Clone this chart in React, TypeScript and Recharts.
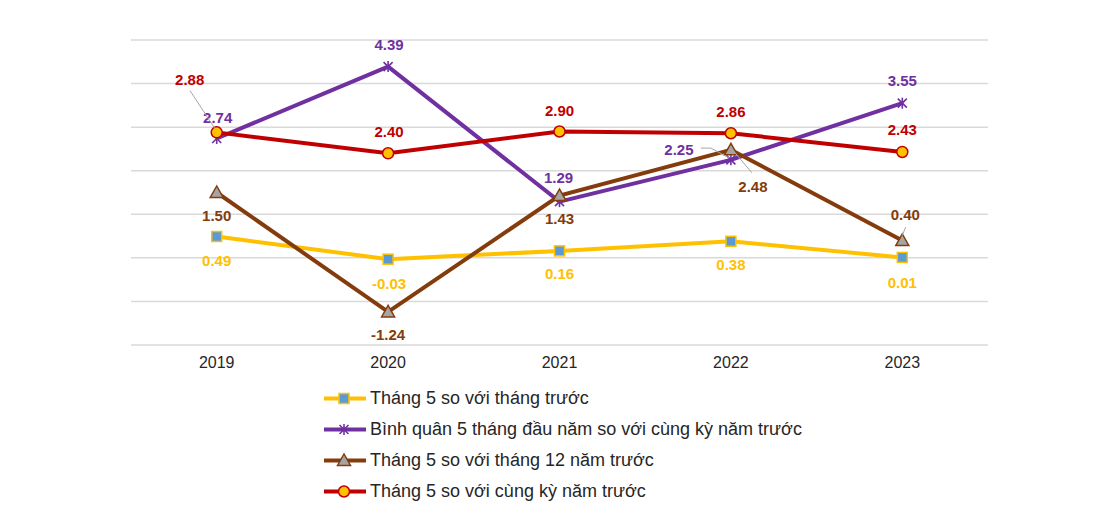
import React from 'react';
import { LineChart, Line, XAxis, YAxis, CartesianGrid, Legend } from 'recharts';

const years = ['2019', '2020', '2021', '2022', '2023'];
const monthOnMonth = [0.49, -0.03, 0.16, 0.38, 0.01];
const fiveMonthAvg = [2.74, 4.39, 1.29, 2.25, 3.55];
const vsDecember = [1.5, -1.24, 1.43, 2.48, 0.4];
const yearOnYear = [2.88, 2.4, 2.9, 2.86, 2.43];
const seriesNames = [
  'Tháng 5 so với tháng trước',
  'Bình quân 5 tháng đầu năm so với cùng kỳ năm trước',
  'Tháng 5 so với tháng 12 năm trước',
  'Tháng 5 so với cùng kỳ năm trước',
];
const yTicks = [-2, -1, 0, 1, 2, 3, 4, 5];

const data = years.map((year, i) => ({
  year,
  mom: monthOnMonth[i],
  avg: fiveMonthAvg[i],
  dec: vsDecember[i],
  yoy: yearOnYear[i],
}));

const FONT = 'Arial, "Liberation Sans", sans-serif';

type Off = { dx: number; dy: number; leader?: number[][] };

const offMom: Off[] = [
  { dx: 0, dy: 24 },
  { dx: 1, dy: 24 },
  { dx: 0, dy: 23 },
  { dx: 0, dy: 23 },
  { dx: 0, dy: 25 },
];
const offAvg: Off[] = [
  { dx: 1, dy: -21 },
  { dx: 1, dy: -22 },
  { dx: -1, dy: -24 },
  { dx: -52, dy: -10, leader: [[-30, -11.7], [-20, -11.7], [-2, -2]] },
  { dx: 0, dy: -23 },
];
const offDec: Off[] = [
  { dx: 0, dy: 23 },
  { dx: 0, dy: 23 },
  { dx: 0, dy: 23 },
  { dx: 22, dy: 37, leader: [[0, -2], [21, 23]] },
  { dx: 3, dy: -26, leader: [[3.4, -13.4], [0, -5]] },
];
const offYoy: Off[] = [
  { dx: -27, dy: -53, leader: [[-26.7, -41.7], [-1.7, -3.7]] },
  { dx: 1, dy: -22 },
  { dx: 0, dy: -21 },
  { dx: 0, dy: -22 },
  { dx: 0, dy: -22 },
];

const C_YEL = '#FFC000';
const C_BLUE = '#5B9BD5';
const C_PUR = '#7030A0';
const C_BRN = '#843C0C';
const C_RED = '#C00000';
const C_GRY = '#A5A5A5';

const fmt = (v: number) => v.toFixed(2);

function makeLabel(offs: Off[], color: string, prefix: string) {
  return (props: any) => {
    const { x, y, value, index } = props;
    if (x == null || y == null) return null;
    const o = offs[index] || { dx: 0, dy: -20 };
    const cx = x + o.dx;
    const cy = y + o.dy;
    const pts = o.leader ? o.leader.map((p) => `${x + p[0]},${y + p[1]}`).join(' ') : null;
    return (
      <g key={`${prefix}-lbl-${index}`}>
        {pts && <polyline points={pts} fill="none" stroke="#A6A6A6" strokeWidth={1} />}
        <text
          x={cx}
          y={cy + 5.4}
          textAnchor="middle"
          fill={color}
          fontFamily={FONT}
          fontSize={15}
          fontWeight="bold"
        >
          {fmt(Number(value))}
        </text>
      </g>
    );
  };
}

function SquareMark({ cx, cy }: { cx: number; cy: number }) {
  return <rect x={cx - 5} y={cy - 5} width={10} height={10} fill={C_BLUE} stroke={C_YEL} strokeWidth={1.5} />;
}
function StarMark({ cx, cy }: { cx: number; cy: number }) {
  const s = 4.5;
  return (
    <g stroke={C_PUR} strokeWidth={1.6}>
      <line x1={cx - s} y1={cy - s} x2={cx + s} y2={cy + s} />
      <line x1={cx - s} y1={cy + s} x2={cx + s} y2={cy - s} />
      <line x1={cx} y1={cy - s - 1} x2={cx} y2={cy + s + 1} />
    </g>
  );
}
function TriMark({ cx, cy }: { cx: number; cy: number }) {
  return (
    <polygon
      points={`${cx},${cy - 6.5} ${cx - 6.5},${cy + 5} ${cx + 6.5},${cy + 5}`}
      fill={C_GRY}
      stroke={C_BRN}
      strokeWidth={1.5}
    />
  );
}
function CircMark({ cx, cy }: { cx: number; cy: number }) {
  return <circle cx={cx} cy={cy} r={5.5} fill={C_YEL} stroke={C_RED} strokeWidth={1.5} />;
}

const markers = [SquareMark, StarMark, TriMark, CircMark];
const colors = [C_YEL, C_PUR, C_BRN, C_RED];

function makeDot(M: any, prefix: string) {
  return (props: any) => {
    const { cx, cy, index } = props;
    if (cx == null || cy == null) return <g key={`${prefix}-d-${index}`} />;
    return (
      <g key={`${prefix}-d-${index}`}>
        <M cx={cx} cy={cy} />
      </g>
    );
  };
}

function LegendContent() {
  return (
    <div style={{ fontFamily: FONT, fontSize: 18, color: '#262626' }}>
      {seriesNames.map((name, i) => {
        const M = markers[i];
        return (
          <div key={name} style={{ height: 31, display: 'flex', alignItems: 'center', whiteSpace: 'nowrap' }}>
            <svg width={46} height={31} style={{ display: 'block' }}>
              <line x1={0} y1={15.5} x2={42} y2={15.5} stroke={colors[i]} strokeWidth={4} />
              <M cx={20} cy={15.5} />
            </svg>
            <span>{name}</span>
          </div>
        );
      })}
    </div>
  );
}

export default function App() {
  return (
    <div style={{ position: 'absolute', left: 0, top: 0, width: 1098, height: 515, background: '#fff' }}>
      <LineChart
        width={1098}
        height={515}
        data={data}
        margin={{ top: 40, right: 110, left: 131, bottom: 140 }}
      >
        <CartesianGrid horizontal vertical={false} stroke="#D9D9D9" strokeWidth={1.5} />
        <XAxis
          dataKey="year"
          axisLine={false}
          tickLine={false}
          height={30}
          tickMargin={6}
          padding={{ left: 85.7, right: 85.7 }}
          tick={{ fill: '#262626', fontSize: 16, fontFamily: FONT }}
        />
        <YAxis hide domain={[-2, 5]} ticks={yTicks} type="number" />
        <Legend
          layout="vertical"
          verticalAlign="middle"
          align="center"
          content={() => <LegendContent />}
          wrapperStyle={{ position: 'absolute', top: 383, left: 324, width: 600 }}
        />
        <Line
          dataKey="mom"
          name={seriesNames[0]}
          stroke={C_YEL}
          strokeWidth={4}
          dot={makeDot(SquareMark, 'mom')}
          label={makeLabel(offMom, C_YEL, 'mom')}
          isAnimationActive={false}
        />
        <Line
          dataKey="avg"
          name={seriesNames[1]}
          stroke={C_PUR}
          strokeWidth={4}
          dot={makeDot(StarMark, 'avg')}
          label={makeLabel(offAvg, C_PUR, 'avg')}
          isAnimationActive={false}
        />
        <Line
          dataKey="dec"
          name={seriesNames[2]}
          stroke={C_BRN}
          strokeWidth={4}
          dot={makeDot(TriMark, 'dec')}
          label={makeLabel(offDec, C_BRN, 'dec')}
          isAnimationActive={false}
        />
        <Line
          dataKey="yoy"
          name={seriesNames[3]}
          stroke={C_RED}
          strokeWidth={4}
          dot={makeDot(CircMark, 'yoy')}
          label={makeLabel(offYoy, C_RED, 'yoy')}
          isAnimationActive={false}
        />
      </LineChart>
    </div>
  );
}
